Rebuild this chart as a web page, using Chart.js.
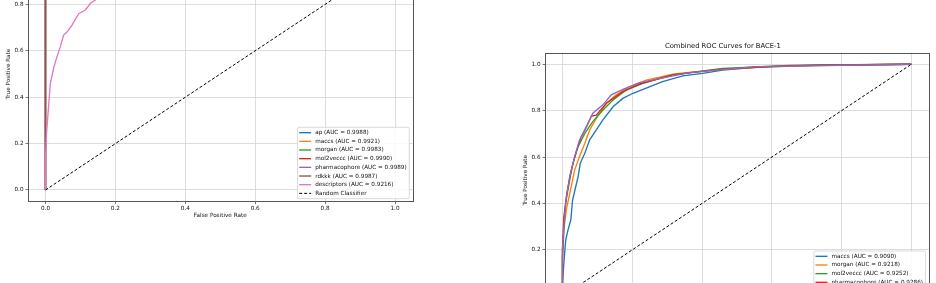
<!DOCTYPE html>
<html>
<head>
<meta charset="utf-8">
<script src="https://cdn.jsdelivr.net/npm/chart.js@4.4.1/dist/chart.umd.min.js"></script>
<style>
  html, body { margin: 0; padding: 0; background: #fff; }
  body { width: 936px; height: 283px; overflow: hidden; position: relative; }
  .box { position: absolute; }
  #leftBox { left: 0; top: -80px; width: 420px; height: 310px; }
  #rightBox { left: 517.2px; top: 30px; width: 430px; height: 310px; }
</style>
</head>
<body>
<div class="box" id="leftBox"><canvas id="leftChart"></canvas></div>
<div class="box" id="rightBox"><canvas id="rightChart"></canvas></div>
<script>
// ticks
const xTicks = [0, 0.2, 0.4, 0.6, 0.8, 1.0];
const yTicks = [0, 0.2, 0.4, 0.6, 0.8, 1.0];

// left panel - near perfect curves + descriptors
const apFpr = [0, 0, 0.002, 0.01, 0.04, 1];
const apTpr = [0, 0.96, 0.985, 0.995, 1, 1];
const maccsFpr = [0, 0, 0.005, 0.02, 0.06, 0.15, 1];
const maccsTpr = [0, 0.9, 0.95, 0.975, 0.99, 1, 1];
const morganFpr = [0, 0, 0.003, 0.012, 0.05, 1];
const morganTpr = [0, 0.95, 0.98, 0.99, 1, 1];
const mol2vecFpr = [0, 0, 0.002, 0.008, 0.03, 1];
const mol2vecTpr = [0, 0.97, 0.99, 0.996, 1, 1];
const pharmFpr = [0, 0, 0.002, 0.01, 0.035, 1];
const pharmTpr = [0, 0.965, 0.985, 0.995, 1, 1];
const rdkkkFpr = [0, 0, 0.003, 0.01, 0.04, 1];
const rdkkkTpr = [0, 0.955, 0.985, 0.993, 1, 1];
const descFpr = [0, 0, 0.003, 0.0095, 0.014, 0.024, 0.033, 0.043, 0.052, 0.062, 0.076, 0.095, 0.114, 0.129, 0.143, 0.18, 0.25, 0.35, 0.5, 0.7, 1];
const descTpr = [0, 0.13, 0.244, 0.373, 0.46, 0.53, 0.575, 0.62, 0.668, 0.682, 0.711, 0.76, 0.776, 0.805, 0.819, 0.85, 0.89, 0.93, 0.965, 0.99, 1];
const leftLabels = ['ap (AUC = 0.9988)', 'maccs (AUC = 0.9921)', 'morgan (AUC = 0.9983)', 'mol2veccc (AUC = 0.9990)',
  'pharmacophore (AUC = 0.9989)', 'rdkkk (AUC = 0.9987)', 'descriptors (AUC = 0.9216)'];

// right panel - BACE-1
const bMaccsFpr = [0, 0, 0.004, 0.0094, 0.016, 0.024, 0.029, 0.038, 0.045, 0.051, 0.064, 0.078, 0.097, 0.116, 0.145, 0.173, 0.202, 0.24, 0.287, 0.345, 0.402, 0.459, 0.554, 0.745, 1];
const bMaccsTpr = [0, 0.05, 0.142, 0.243, 0.286, 0.329, 0.415, 0.472, 0.516, 0.573, 0.616, 0.674, 0.717, 0.76, 0.817, 0.853, 0.875, 0.897, 0.925, 0.95, 0.961, 0.975, 0.987, 0.997, 1];
const bMorganFpr = [0, 0, 0.004, 0.011, 0.021, 0.035, 0.049, 0.064, 0.078, 0.097, 0.126, 0.154, 0.192, 0.24, 0.32, 0.45, 0.6, 0.8, 1];
const bMorganTpr = [0, 0.15, 0.286, 0.372, 0.444, 0.544, 0.602, 0.659, 0.717, 0.767, 0.832, 0.868, 0.903, 0.932, 0.958, 0.978, 0.99, 0.997, 1];
const bMol2vecFpr = [0, 0, 0.004, 0.009, 0.019, 0.03, 0.045, 0.064, 0.087, 0.116, 0.145, 0.183, 0.23, 0.316, 0.459, 0.65, 1];
const bMol2vecTpr = [0, 0.171, 0.286, 0.401, 0.487, 0.573, 0.645, 0.702, 0.753, 0.803, 0.846, 0.889, 0.918, 0.954, 0.982, 0.995, 1];
const bPharmFpr = [0, 0, 0.004, 0.013, 0.023, 0.038, 0.054, 0.069, 0.083, 0.097, 0.126, 0.173, 0.221, 0.316, 0.45, 0.65, 1];
const bPharmTpr = [0, 0.2, 0.343, 0.444, 0.53, 0.616, 0.688, 0.731, 0.777, 0.781, 0.832, 0.882, 0.915, 0.954, 0.978, 0.994, 1];
const bRdkkkFpr = [0, 0, 0.004, 0.011, 0.021, 0.035, 0.049, 0.069, 0.087, 0.116, 0.14, 0.173, 0.221, 0.364, 0.554, 1];
const bRdkkkTpr = [0, 0.2, 0.3, 0.429, 0.516, 0.602, 0.674, 0.731, 0.789, 0.825, 0.868, 0.892, 0.921, 0.964, 0.99, 1];
const rightLabels = ['maccs (AUC = 0.9090)', 'morgan (AUC = 0.9218)', 'mol2veccc (AUC = 0.9252)',
  'pharmacophore (AUC = 0.9286)', 'rdkkk (AUC = 0.9301)'];

const randFpr = [0, 1];
const randTpr = [0, 1];

const colors = ['#1f77b4', '#ff7f0e', '#2ca02c', '#d62728', '#9467bd', '#8c564b', '#e377c2'];
const FONT = '"DejaVu Sans", "Liberation Sans", sans-serif';
const FS = 5.7;
const TEXT = '#111';

const pts = (xs, ys) => xs.map((x, i) => ({ x: x, y: ys[i] }));

function makeSets(curves, labels, colorList) {
  const sets = curves.map((c, i) => ({
    label: labels[i], data: pts(c[0], c[1]),
    borderColor: colorList[i], borderWidth: 1.35
  }));
  sets.push({ label: 'Random Classifier', data: pts(randFpr, randTpr), borderColor: '#000', borderWidth: 1, borderDash: [3, 2] });
  // later series on top (matplotlib order)
  sets.forEach((s, i) => { s.order = sets.length - i; });
  return sets;
}

// frame + legend in the lower right corner
const framePlugin = {
  id: 'frame',
  afterDatasetsDraw(chart) {
    const { ctx, chartArea: a } = chart;
    ctx.save();
    ctx.strokeStyle = '#555';
    ctx.lineWidth = 1;
    ctx.strokeRect(Math.round(a.left) + 0.5, Math.round(a.top) + 0.5, Math.round(a.right - a.left), Math.round(a.bottom - a.top));
    ctx.restore();
  },
  afterDraw(chart) {
    const { ctx, chartArea: a } = chart;
    const items = chart.data.datasets;
    const row = 8.67;
    ctx.save();
    ctx.font = FS + 'px ' + FONT;
    const tw = Math.max(...items.map(d => ctx.measureText(d.label).width));
    const w = 1.6 + 12 + 4 + tw + 2.6;
    const h = items.length * row + 2;
    const x = a.right - 3.2 - w;
    const y = a.bottom - 2.9 - h;
    ctx.beginPath();
    ctx.roundRect(x, y, w, h, 1.5);
    ctx.fillStyle = 'rgba(255,255,255,0.85)';
    ctx.fill();
    ctx.strokeStyle = '#d0d0d0';
    ctx.lineWidth = 0.8;
    ctx.stroke();
    items.forEach((d, i) => {
      const cy = y + 1 + row / 2 + i * row;
      ctx.beginPath();
      ctx.setLineDash(d.borderDash || []);
      ctx.strokeStyle = d.borderColor;
      ctx.lineWidth = d.borderWidth;
      ctx.moveTo(x + 1.6, cy);
      ctx.lineTo(x + 13.6, cy);
      ctx.stroke();
      ctx.setLineDash([]);
      ctx.fillStyle = TEXT;
      ctx.textBaseline = 'middle';
      ctx.fillText(d.label, x + 17.6, cy);
    });
    ctx.restore();
  }
};

function axis(ticks, title, horizontal) {
  return {
    type: 'linear', min: -0.05, max: 1.05,
    afterBuildTicks: s => { s.ticks = ticks.map(v => ({ value: v })); },
    afterFit: s => { if (horizontal) s.height = 28.4; else s.width = 28; },
    grid: { color: '#d4d4d4', lineWidth: 0.8, drawTicks: true, tickLength: 2.5, tickColor: '#555', tickWidth: 0.8 },
    border: { display: false },
    ticks: { font: { family: FONT, size: FS }, color: TEXT, padding: horizontal ? 0.8 : 2, maxRotation: 0, autoSkip: false,
      callback: v => v.toFixed(1) },
    title: { display: true, text: title, font: { family: FONT, size: FS }, color: TEXT,
      padding: horizontal ? { top: 0, bottom: 10.6 } : { top: 5.6, bottom: 0 } }
  };
}

function makeChart(id, sets, padding, titleText) {
  return new Chart(document.getElementById(id), {
    type: 'line',
    data: { datasets: sets },
    options: {
      responsive: true, maintainAspectRatio: false, animation: false, devicePixelRatio: 1,
      elements: { point: { radius: 0 }, line: { tension: 0 } },
      layout: { padding: padding },
      plugins: {
        legend: { display: false }, tooltip: { enabled: false },
        title: { display: !!titleText, text: titleText, color: TEXT, font: { family: FONT, size: 6.8, weight: 'normal' }, padding: { top: 0, bottom: 2 } }
      },
      scales: { x: axis(xTicks, 'False Positive Rate', true), y: axis(yTicks, 'True Positive Rate', false) }
    },
    plugins: [framePlugin]
  });
}

const leftSets = makeSets([[apFpr, apTpr], [maccsFpr, maccsTpr], [morganFpr, morganTpr], [mol2vecFpr, mol2vecTpr],
  [pharmFpr, pharmTpr], [rdkkkFpr, rdkkkTpr], [descFpr, descTpr]], leftLabels, colors);
const rightSets = makeSets([[bMaccsFpr, bMaccsTpr], [bMorganFpr, bMorganTpr], [bMol2vecFpr, bMol2vecTpr],
  [bPharmFpr, bPharmTpr], [bRdkkkFpr, bRdkkkTpr]], rightLabels, colors);

makeChart('leftChart', leftSets, { top: 26.4, right: 7.5, bottom: 0, left: 0 }, '');
makeChart('rightChart', rightSets, { top: 12.5, right: 18.2, bottom: 3.7, left: 0 }, 'Combined ROC Curves for BACE-1');
</script>
</body>
</html>
